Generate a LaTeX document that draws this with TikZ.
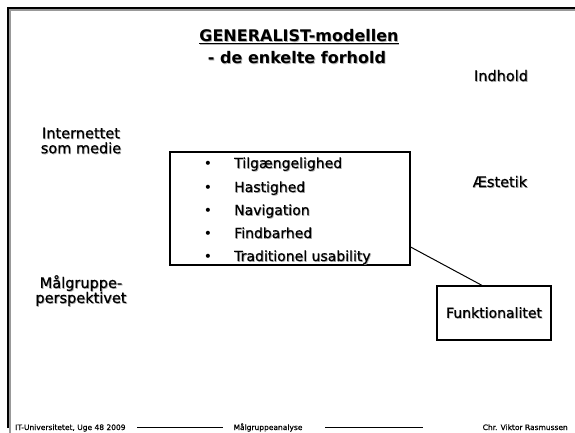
\documentclass[tikz,border=0pt]{standalone}
\usepackage{fontspec}
\setmainfont{DejaVu Sans}
\newfontfamily\halvfed{DejaVu Sans}[FakeBold=0.6]
\newcommand\skygge[1]{\leavevmode\rlap{\kern.8pt\raisebox{-.8pt}{\textcolor{black!30}{#1}}}#1}
\begin{document}
\begin{tikzpicture}[x=1pt,y=-1pt,
  tekst/.style={inner sep=0pt,anchor=base,font=\fontsize{14.5}{15}\selectfont\halvfed},
  overskrift/.style={inner sep=0pt,anchor=base,font=\fontsize{16}{18}\selectfont\bfseries},
  punkt/.style={inner sep=0pt,anchor=base west,font=\fontsize{14}{15}\selectfont\halvfed},
  prik/.style={inner sep=0pt,anchor=base,font=\fontsize{14}{15}\selectfont},
  fod/.style={inner sep=0pt,anchor=base,font=\fontsize{7.5}{8}\selectfont\halvfed},
  kasse/.style={draw,line width=1.2pt,inner sep=0pt}]
\fill[white] (0,0) rectangle (575,433);
\useasboundingbox (0,0) rectangle (575,433);
\draw[black!40,line width=1.5pt] (10,433) -- (10,10) -- (575,10);
\draw[line width=2.5pt] (8,428) -- (8,8) -- (575,8);
\node[overskrift] (titel) at (299,42) {\skygge{\underline{GENERALIST-modellen}}};
\node[overskrift] (under) at (297,64) {\skygge{- de enkelte forhold}};
\node[tekst] (indhold) at (501,81) {\skygge{Indhold}};
\node[tekst] (aestetik) at (500,187) {\skygge{Æstetik}};
\node[tekst,align=center,anchor=center] (internet) at (81,141) {\skygge{Internettet}\\\skygge{som medie}};
\node[tekst,align=center,anchor=center] (maalgruppe) at (81,291) {\skygge{Målgruppe-}\\\skygge{perspektivet}};
\node[kasse,minimum width=240,minimum height=113] (liste) at (290,208.5) {};
\node[prik] (p1) at (208,168) {\textbullet};
\node[prik] (p2) at (208,192) {\textbullet};
\node[prik] (p3) at (208,215) {\textbullet};
\node[prik] (p4) at (208,238) {\textbullet};
\node[prik] (p5) at (208,261) {\textbullet};
\node[punkt] (t1) at (234,168) {\skygge{Tilgængelighed}};
\node[punkt] (t2) at (234,192) {\skygge{Hastighed}};
\node[punkt] (t3) at (234,215) {\skygge{Navigation}};
\node[punkt] (t4) at (234,238) {\skygge{Findbarhed}};
\node[punkt] (t5) at (234,261) {\skygge{Traditionel usability}};
\node[kasse,minimum width=114,minimum height=54,font=\fontsize{14}{15}\selectfont\halvfed] (funk) at (494,313) {\skygge{Funktionalitet}};
\draw[line width=1pt] ([yshift=-38.5pt]liste.east) -- ([xshift=-12pt]funk.north);
\node[fod,anchor=base west] (f1) at (15,430) {IT-Universitetet, Uge 48 2009};
\node[fod] (f2) at (268,430) {Målgruppeanalyse};
\node[fod,anchor=base east] (f3) at (568,430) {Chr. Viktor Rasmussen};
\coordinate (s1) at (137,427);
\coordinate (s2) at (223,427);
\coordinate (s3) at (325,427);
\coordinate (s4) at (423,427);
\draw[line width=.7pt] (s1) -- (s2);
\draw[line width=.7pt] (s3) -- (s4);
\end{tikzpicture}
\end{document}
